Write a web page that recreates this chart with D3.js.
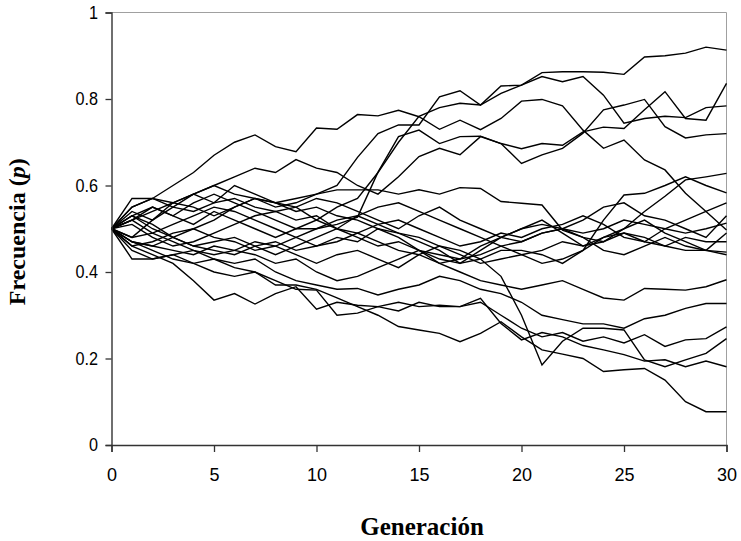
<!DOCTYPE html>
<html><head><meta charset="utf-8">
<script src="https://cdn.jsdelivr.net/npm/d3@7"></script>
<style>body{margin:0;background:#fff}</style>
</head><body>
<svg id="c" width="741" height="541"></svg>
<script>
const generations = d3.range(0, 31);
const xTicks = [0, 5, 10, 15, 20, 25, 30];
const yTicks = [0, 0.2, 0.4, 0.6, 0.8, 1];
const xTitle = "Generación";
const yTitle = "Frecuencia (";

const sA = [0.5,0.47,0.46,0.48,0.50,0.52,0.55,0.57,0.55,0.56,0.58,0.60,0.665,0.72,0.74,0.74,0.805,0.819,0.786,0.83,0.832,0.861,0.863,0.863,0.862,0.857,0.897,0.90,0.906,0.92,0.913];
const sB = [0.5,0.48,0.52,0.56,0.58,0.60,0.62,0.64,0.63,0.66,0.64,0.63,0.60,0.58,0.62,0.667,0.686,0.671,0.713,0.697,0.685,0.697,0.693,0.724,0.735,0.732,0.775,0.817,0.755,0.751,0.836];
const sC = [0.5,0.54,0.52,0.55,0.58,0.56,0.60,0.58,0.56,0.55,0.52,0.55,0.57,0.63,0.70,0.76,0.78,0.79,0.786,0.813,0.832,0.852,0.84,0.852,0.809,0.744,0.755,0.76,0.757,0.78,0.784];
const sD = [0.5,0.52,0.55,0.53,0.56,0.58,0.56,0.54,0.52,0.50,0.50,0.51,0.527,0.631,0.713,0.728,0.697,0.713,0.714,0.697,0.651,0.671,0.686,0.721,0.775,0.786,0.799,0.736,0.71,0.717,0.72];
const sE = [0.5,0.53,0.50,0.48,0.46,0.45,0.44,0.46,0.47,0.45,0.46,0.48,0.47,0.50,0.49,0.47,0.45,0.42,0.45,0.48,0.50,0.52,0.49,0.46,0.47,0.50,0.54,0.575,0.613,0.62,0.628];
const sF = [0.5,0.53,0.55,0.53,0.51,0.54,0.52,0.50,0.48,0.50,0.52,0.50,0.48,0.46,0.47,0.45,0.43,0.42,0.43,0.45,0.45,0.44,0.42,0.45,0.52,0.578,0.582,0.60,0.62,0.60,0.583];
const sG = [0.5,0.57,0.57,0.55,0.54,0.56,0.57,0.55,0.54,0.52,0.53,0.50,0.49,0.51,0.52,0.50,0.48,0.46,0.47,0.49,0.48,0.50,0.51,0.53,0.51,0.48,0.47,0.50,0.52,0.54,0.56];
const sH = [0.5,0.51,0.48,0.46,0.47,0.49,0.51,0.53,0.54,0.55,0.57,0.56,0.54,0.52,0.50,0.53,0.55,0.52,0.50,0.48,0.47,0.49,0.50,0.52,0.55,0.56,0.53,0.52,0.50,0.48,0.53];
const sI = [0.5,0.52,0.54,0.56,0.55,0.53,0.55,0.57,0.56,0.54,0.55,0.53,0.52,0.50,0.48,0.45,0.44,0.43,0.46,0.48,0.50,0.51,0.50,0.49,0.50,0.52,0.51,0.50,0.49,0.50,0.513];
const sJ = [0.5,0.48,0.49,0.51,0.53,0.55,0.54,0.52,0.50,0.48,0.46,0.47,0.49,0.47,0.45,0.44,0.42,0.43,0.44,0.46,0.47,0.49,0.50,0.48,0.45,0.44,0.46,0.48,0.46,0.45,0.49];
const sK = [0.5,0.46,0.47,0.49,0.50,0.48,0.47,0.45,0.46,0.48,0.50,0.52,0.53,0.51,0.49,0.48,0.46,0.44,0.42,0.43,0.44,0.45,0.47,0.46,0.48,0.49,0.47,0.46,0.48,0.47,0.47];
const sL = [0.5,0.53,0.51,0.48,0.46,0.47,0.48,0.46,0.44,0.46,0.48,0.50,0.53,0.55,0.56,0.54,0.52,0.50,0.48,0.46,0.44,0.42,0.43,0.45,0.48,0.50,0.52,0.49,0.47,0.45,0.446];
const sM = [0.5,0.55,0.57,0.56,0.58,0.60,0.58,0.57,0.56,0.57,0.58,0.59,0.59,0.59,0.58,0.59,0.58,0.595,0.593,0.563,0.559,0.555,0.497,0.48,0.47,0.49,0.48,0.46,0.45,0.45,0.44];
const sN = [0.5,0.55,0.57,0.60,0.63,0.67,0.70,0.717,0.69,0.678,0.733,0.73,0.764,0.761,0.774,0.759,0.73,0.751,0.729,0.755,0.795,0.799,0.784,0.728,0.686,0.705,0.659,0.636,0.582,0.54,0.497];
const sO = [0.5,0.47,0.46,0.45,0.44,0.46,0.45,0.44,0.42,0.43,0.40,0.38,0.39,0.41,0.43,0.45,0.42,0.40,0.38,0.37,0.36,0.37,0.38,0.36,0.34,0.335,0.362,0.36,0.358,0.366,0.382];
const sP = [0.5,0.43,0.43,0.44,0.45,0.43,0.42,0.43,0.40,0.38,0.37,0.36,0.362,0.347,0.36,0.37,0.39,0.38,0.36,0.35,0.33,0.30,0.29,0.28,0.28,0.27,0.292,0.30,0.316,0.327,0.327];
const sQ = [0.5,0.45,0.43,0.44,0.42,0.43,0.41,0.40,0.38,0.36,0.358,0.30,0.305,0.32,0.31,0.33,0.32,0.32,0.33,0.30,0.27,0.25,0.26,0.24,0.25,0.236,0.255,0.228,0.243,0.246,0.273];
const sR = [0.5,0.52,0.49,0.47,0.45,0.44,0.45,0.47,0.46,0.44,0.42,0.44,0.45,0.43,0.41,0.44,0.46,0.45,0.43,0.39,0.30,0.185,0.24,0.27,0.27,0.266,0.197,0.181,0.197,0.212,0.246];
const sS = [0.5,0.46,0.44,0.42,0.38,0.335,0.35,0.326,0.35,0.366,0.314,0.33,0.323,0.32,0.33,0.32,0.323,0.32,0.339,0.281,0.243,0.26,0.25,0.23,0.22,0.209,0.194,0.197,0.181,0.194,0.181];
const sT = [0.5,0.47,0.45,0.43,0.42,0.40,0.39,0.40,0.37,0.37,0.36,0.34,0.32,0.30,0.274,0.266,0.258,0.239,0.258,0.285,0.25,0.22,0.21,0.20,0.17,0.174,0.177,0.15,0.10,0.077,0.077];

const series = [sA,sB,sC,sD,sE,sF,sG,sH,sI,sJ,sK,sL,sM,sN,sO,sP,sQ,sR,sS,sT];

const svg = d3.select("#c");
const W = 741, H = 541;
const m = {l:111.5, r:W-726.5, t:12.5, b:H-445};
const x = d3.scaleLinear().domain([0,30]).range([m.l, W-m.r]);
const y = d3.scaleLinear().domain([0,1]).range([H-m.b, m.t]);

svg.append("line").attr("x1",x(0)).attr("x2",x(30)).attr("y1",y(1)).attr("y2",y(1)).attr("stroke","#a0a0a0").attr("stroke-width",1);
svg.append("line").attr("x1",x(30)).attr("x2",x(30)).attr("y1",y(1)).attr("y2",y(0)).attr("stroke","#a0a0a0").attr("stroke-width",1);

const line = d3.line().x((d,i)=>x(generations[i])).y(d=>y(d));
svg.append("g").selectAll("path").data(series).join("path")
  .attr("d", line).attr("fill","none").attr("stroke","#000").attr("stroke-width",1.4);

const fontTick = "'Liberation Sans', Arial, sans-serif";
const xAxis = svg.append("g").attr("transform",`translate(0,${y(0)})`)
  .call(d3.axisBottom(x).tickValues(xTicks).tickSize(7).tickPadding(16).tickFormat(d3.format("d")));
const yAxis = svg.append("g").attr("transform",`translate(${x(0)},0)`)
  .call(d3.axisLeft(y).tickValues(yTicks).tickSize(6).tickPadding(9).tickFormat(d=>String(d)));
[xAxis,yAxis].forEach(a=>{
  a.select(".domain").attr("stroke","#333").attr("stroke-width",1.4);
  a.selectAll(".tick line").attr("stroke","#333").attr("stroke-width",1.3);
  a.selectAll(".tick text").attr("font-family",fontTick).attr("font-size",18).attr("fill","#000")
    .attr("transform","scale(0.9,1)");
});
xAxis.selectAll(".tick text").attr("transform",null).attr("textLength",null);

svg.append("text").attr("x",(x(0)+x(30))/2+3).attr("y",535)
  .attr("text-anchor","middle").attr("font-family","'Liberation Serif','Times New Roman',serif")
  .attr("font-weight","bold").attr("font-size",25).text(xTitle);

const yt = svg.append("text").attr("transform",`translate(25,${(y(0)+y(1))/2+3}) rotate(-90)`)
  .attr("text-anchor","middle").attr("font-family","'Liberation Serif','Times New Roman',serif")
  .attr("font-weight","bold").attr("font-size",24);
yt.append("tspan").text(yTitle);
yt.append("tspan").attr("font-style","italic").text("p");
yt.append("tspan").text(")");
</script>
</body></html>
